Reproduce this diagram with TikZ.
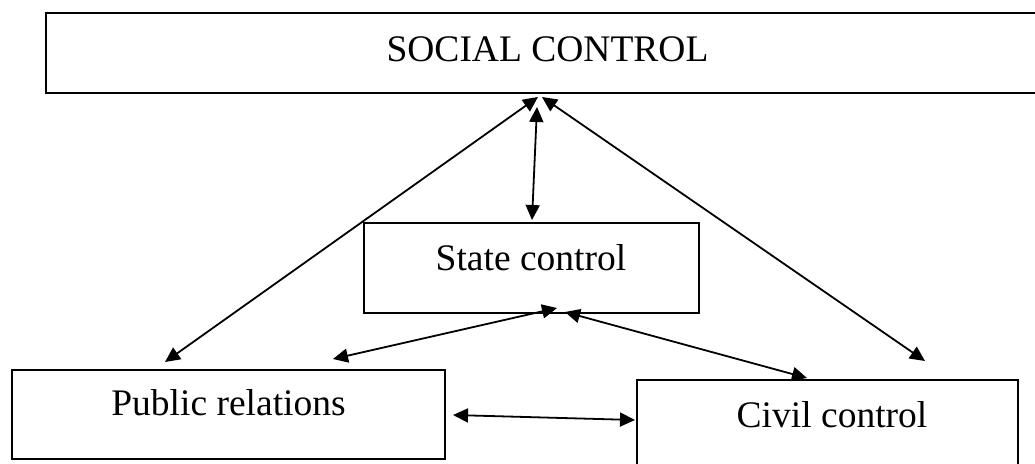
\documentclass[tikz,border=0pt]{standalone}
\usepackage{fontspec}
\setmainfont{Liberation Serif}
\usetikzlibrary{arrows.meta}
\begin{document}
\begin{tikzpicture}[x=1pt,y=-1pt,
  box/.style={draw=black,line width=2pt,inner sep=0pt,rectangle},
  lbl/.style={font=\fontsize{37.5}{44}\selectfont,inner sep=0pt,anchor=base},
  arr/.style={draw=black,line width=1.8pt,{Triangle[length=15pt,width=14pt]}-{Triangle[length=15pt,width=14pt]}}]
\useasboundingbox (0,0) rectangle (1035,463);
\clip (0,0) rectangle (1035,463);
\fill[white] (0,0) rectangle (1035,463);
% boxes
\node[box,minimum width=999pt,minimum height=80pt] (soc) at (545.5,53) {};
\node[box,minimum width=335pt,minimum height=90pt] (st) at (531.5,268) {};
\node[box,minimum width=433pt,minimum height=89pt] (pr) at (228.5,414.5) {};
\node[box,minimum width=381pt,minimum height=100pt] (cc) at (827.5,430) {};
% labels
\node[lbl] (tsoc) at (547.5,61) {SOCIAL CONTROL};
\node[lbl] (tst) at (531,270) {State control};
\node[lbl] (tpr) at (228.5,415) {Public relations};
\node[lbl] (tcc) at (832,427) {Civil control};
% connector end points
\coordinate (v1) at (532,220);
\coordinate (v2) at (537,107);
\coordinate (l1) at (538,97);
\coordinate (l2) at (165,362);
\coordinate (r1) at (542,97);
\coordinate (r2) at (925,361);
\coordinate (ps1) at (333,359);
\coordinate (ps2) at (557,308);
\coordinate (cs1) at (565,312);
\coordinate (cs2) at (807,378);
\coordinate (pc1) at (453,415);
\coordinate (pc2) at (635,420);
% connectors
\draw[arr] (v1) -- (v2);
\draw[arr] (l1) -- (l2);
\draw[arr] (r1) -- (r2);
\draw[arr] (ps1) -- (ps2);
\draw[arr] (cs1) -- (cs2);
\draw[arr] (pc1) -- (pc2);
\end{tikzpicture}
\end{document}
